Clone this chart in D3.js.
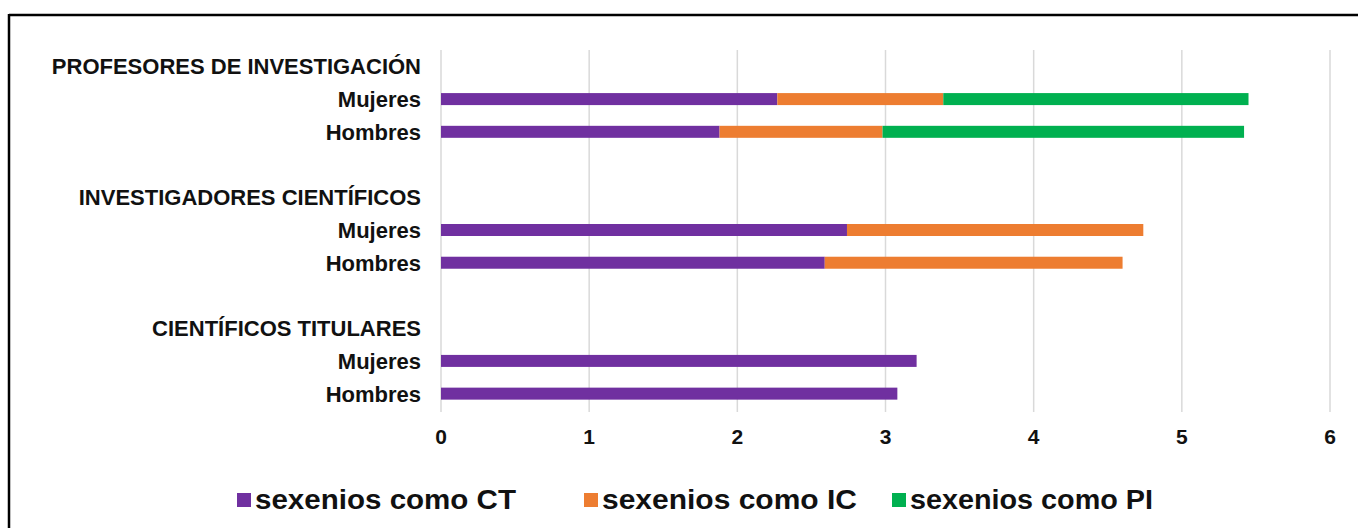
<!DOCTYPE html>
<html>
<head>
<meta charset="utf-8">
<script src="https://cdn.jsdelivr.net/npm/d3@7"></script>
<style>
  html, body { margin: 0; padding: 0; background: #fff; }
  svg { display: block; font-family: "Liberation Sans", Arial, sans-serif; }
</style>
</head>
<body>
<div id="chart"></div>
<script>
"use strict";

// Row labels, top to bottom (headers and blank spacer rows included)
const rowLabels = [
  "PROFESORES DE INVESTIGACIÓN", "Mujeres", "Hombres", "",
  "INVESTIGADORES CIENTÍFICOS", "Mujeres", "Hombres", "",
  "CIENTÍFICOS TITULARES", "Mujeres", "Hombres"
];
const rowIsBar = [false, true, true, false, false, true, true, false, false, true, true];

// Series values for the bar rows (same order as the bar rows above)
const seriesNames = ["sexenios como CT", "sexenios como IC", "sexenios como PI"];
const seriesColors = ["#7030A0", "#ED7D31", "#00B050"];
const ctValues = [2.27, 1.88, 2.74, 2.59, 3.21, 3.08];
const icValues = [1.12, 1.10, 2.00, 2.01, 0, 0];
const piValues = [2.06, 2.44, 0, 0, 0, 0];
const xTicks = [0, 1, 2, 3, 4, 5, 6];

const W = 1358, H = 528;
const plotL = 441, plotR = 1330, plotT = 50, plotB = 410;

const svg = d3.select("#chart").append("svg")
  .attr("width", W).attr("height", H);

// Frame (only top and left edges visible in the crop)
svg.append("line").attr("x1", 9).attr("x2", W).attr("y1", 15).attr("y2", 15)
  .attr("stroke", "#000").attr("stroke-width", 2.5);
svg.append("line").attr("x1", 9).attr("x2", 9).attr("y1", 14).attr("y2", H)
  .attr("stroke", "#000").attr("stroke-width", 2.5);

const x = d3.scaleLinear().domain([0, 6]).range([plotL, plotR]);
const y = d3.scaleBand().domain(d3.range(rowLabels.length)).range([plotT, plotB]).padding(0);
const barH = 12;

// Gridlines
svg.append("g").selectAll("line").data(xTicks).join("line")
  .attr("x1", d => x(d)).attr("x2", d => x(d))
  .attr("y1", plotT).attr("y2", plotB + 2)
  .attr("stroke", "#D9D9D9").attr("stroke-width", 1.5);

// Tick labels
svg.append("g").selectAll("text").data(xTicks).join("text")
  .attr("x", d => x(d)).attr("y", 444)
  .attr("text-anchor", "middle")
  .attr("font-size", 21).attr("font-weight", "bold").attr("fill", "#111")
  .text(d => d);

// Row labels
svg.append("g").selectAll("text").data(rowLabels).join("text")
  .attr("x", 421)
  .attr("y", (d, i) => y(i) + y.bandwidth() / 2)
  .attr("dy", "0.36em")
  .attr("text-anchor", "end")
  .attr("font-size", 22).attr("font-weight", "bold").attr("fill", "#111")
  .text(d => d);

// Stacked bars
const barRows = d3.range(rowLabels.length).filter(i => rowIsBar[i]);
const table = barRows.map((r, k) => ({ row: r, ct: ctValues[k], ic: icValues[k], pi: piValues[k] }));
const stack = d3.stack().keys(["ct", "ic", "pi"])(table);

stack.forEach((layer, si) => {
  svg.append("g").attr("fill", seriesColors[si])
    .selectAll("rect").data(layer.filter(d => d[1] > d[0])).join("rect")
    .attr("x", d => x(d[0]))
    .attr("y", d => y(d.data.row) + y.bandwidth() / 2 - barH / 2)
    .attr("width", d => x(d[1]) - x(d[0]))
    .attr("height", barH);
});

// Legend
const legendX = [237, 584, 892];
const legendTextW = [261, 255, 243];
const legend = svg.append("g");
seriesNames.forEach((name, i) => {
  legend.append("rect")
    .attr("x", legendX[i]).attr("y", 493)
    .attr("width", 14).attr("height", 14)
    .attr("fill", seriesColors[i]);
  legend.append("text")
    .attr("x", legendX[i] + 18).attr("y", 509)
    .attr("font-size", 27).attr("font-weight", "bold").attr("fill", "#111")
    .attr("textLength", legendTextW[i]).attr("lengthAdjust", "spacingAndGlyphs")
    .text(name);
});
</script>
</body>
</html>
